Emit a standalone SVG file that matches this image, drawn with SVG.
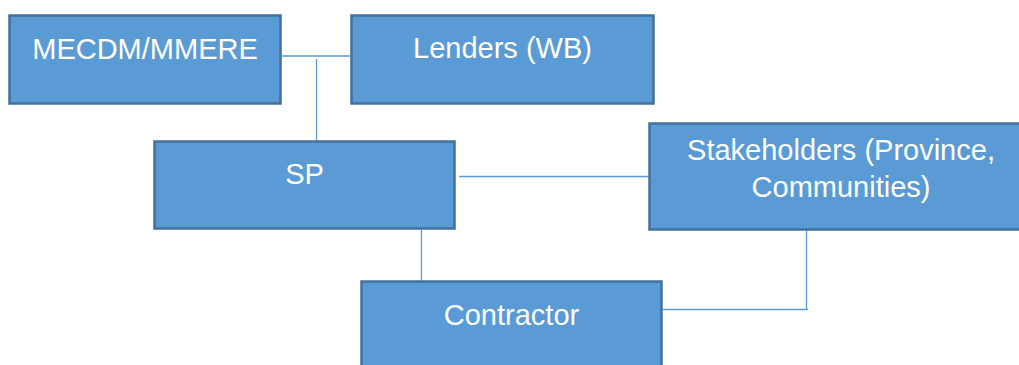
<svg xmlns="http://www.w3.org/2000/svg" width="1019" height="365" viewBox="0 0 1019 365">
<style>
.box{fill:#5B9BD5;stroke:#41719C;stroke-width:2.5}
.lbl{fill:#FFFFFF;font-family:"Liberation Sans",Arial,sans-serif;font-size:29px;text-anchor:middle}
.con{fill:none;stroke:#5B9BD5;stroke-width:1.3}
</style>
<rect width="1019" height="365" fill="#FFFFFF"/>
<g id="connectors">
<path class="con" d="M282 56 H350"/>
<path class="con" d="M316.5 59 V141"/>
<path class="con" d="M459 176.5 H649"/>
<path class="con" d="M421.5 230 V281"/>
<path class="con" d="M663 309.5 H808"/>
<path class="con" d="M806.5 230 V310"/>
</g>
<g id="n-mecdm">
<rect class="box" x="9.5" y="15.5" width="271" height="88"/>
<text class="lbl" x="145" y="59">MECDM/MMERE</text>
</g>
<g id="n-lenders">
<rect class="box" x="351.5" y="15.5" width="302" height="88"/>
<text class="lbl" x="502.5" y="58">Lenders (WB)</text>
</g>
<g id="n-sp">
<rect class="box" x="154.5" y="141.5" width="300" height="87"/>
<text class="lbl" x="304.5" y="184">SP</text>
</g>
<g id="n-stakeholders">
<rect class="box" x="649.5" y="123.5" width="385" height="106"/>
<text class="lbl" x="841" y="160">Stakeholders (Province,</text>
<text class="lbl" x="841" y="197">Communities)</text>
</g>
<g id="n-contractor">
<rect class="box" x="361.5" y="281.5" width="300" height="100"/>
<text class="lbl" x="511.5" y="325">Contractor</text>
</g>
</svg>
